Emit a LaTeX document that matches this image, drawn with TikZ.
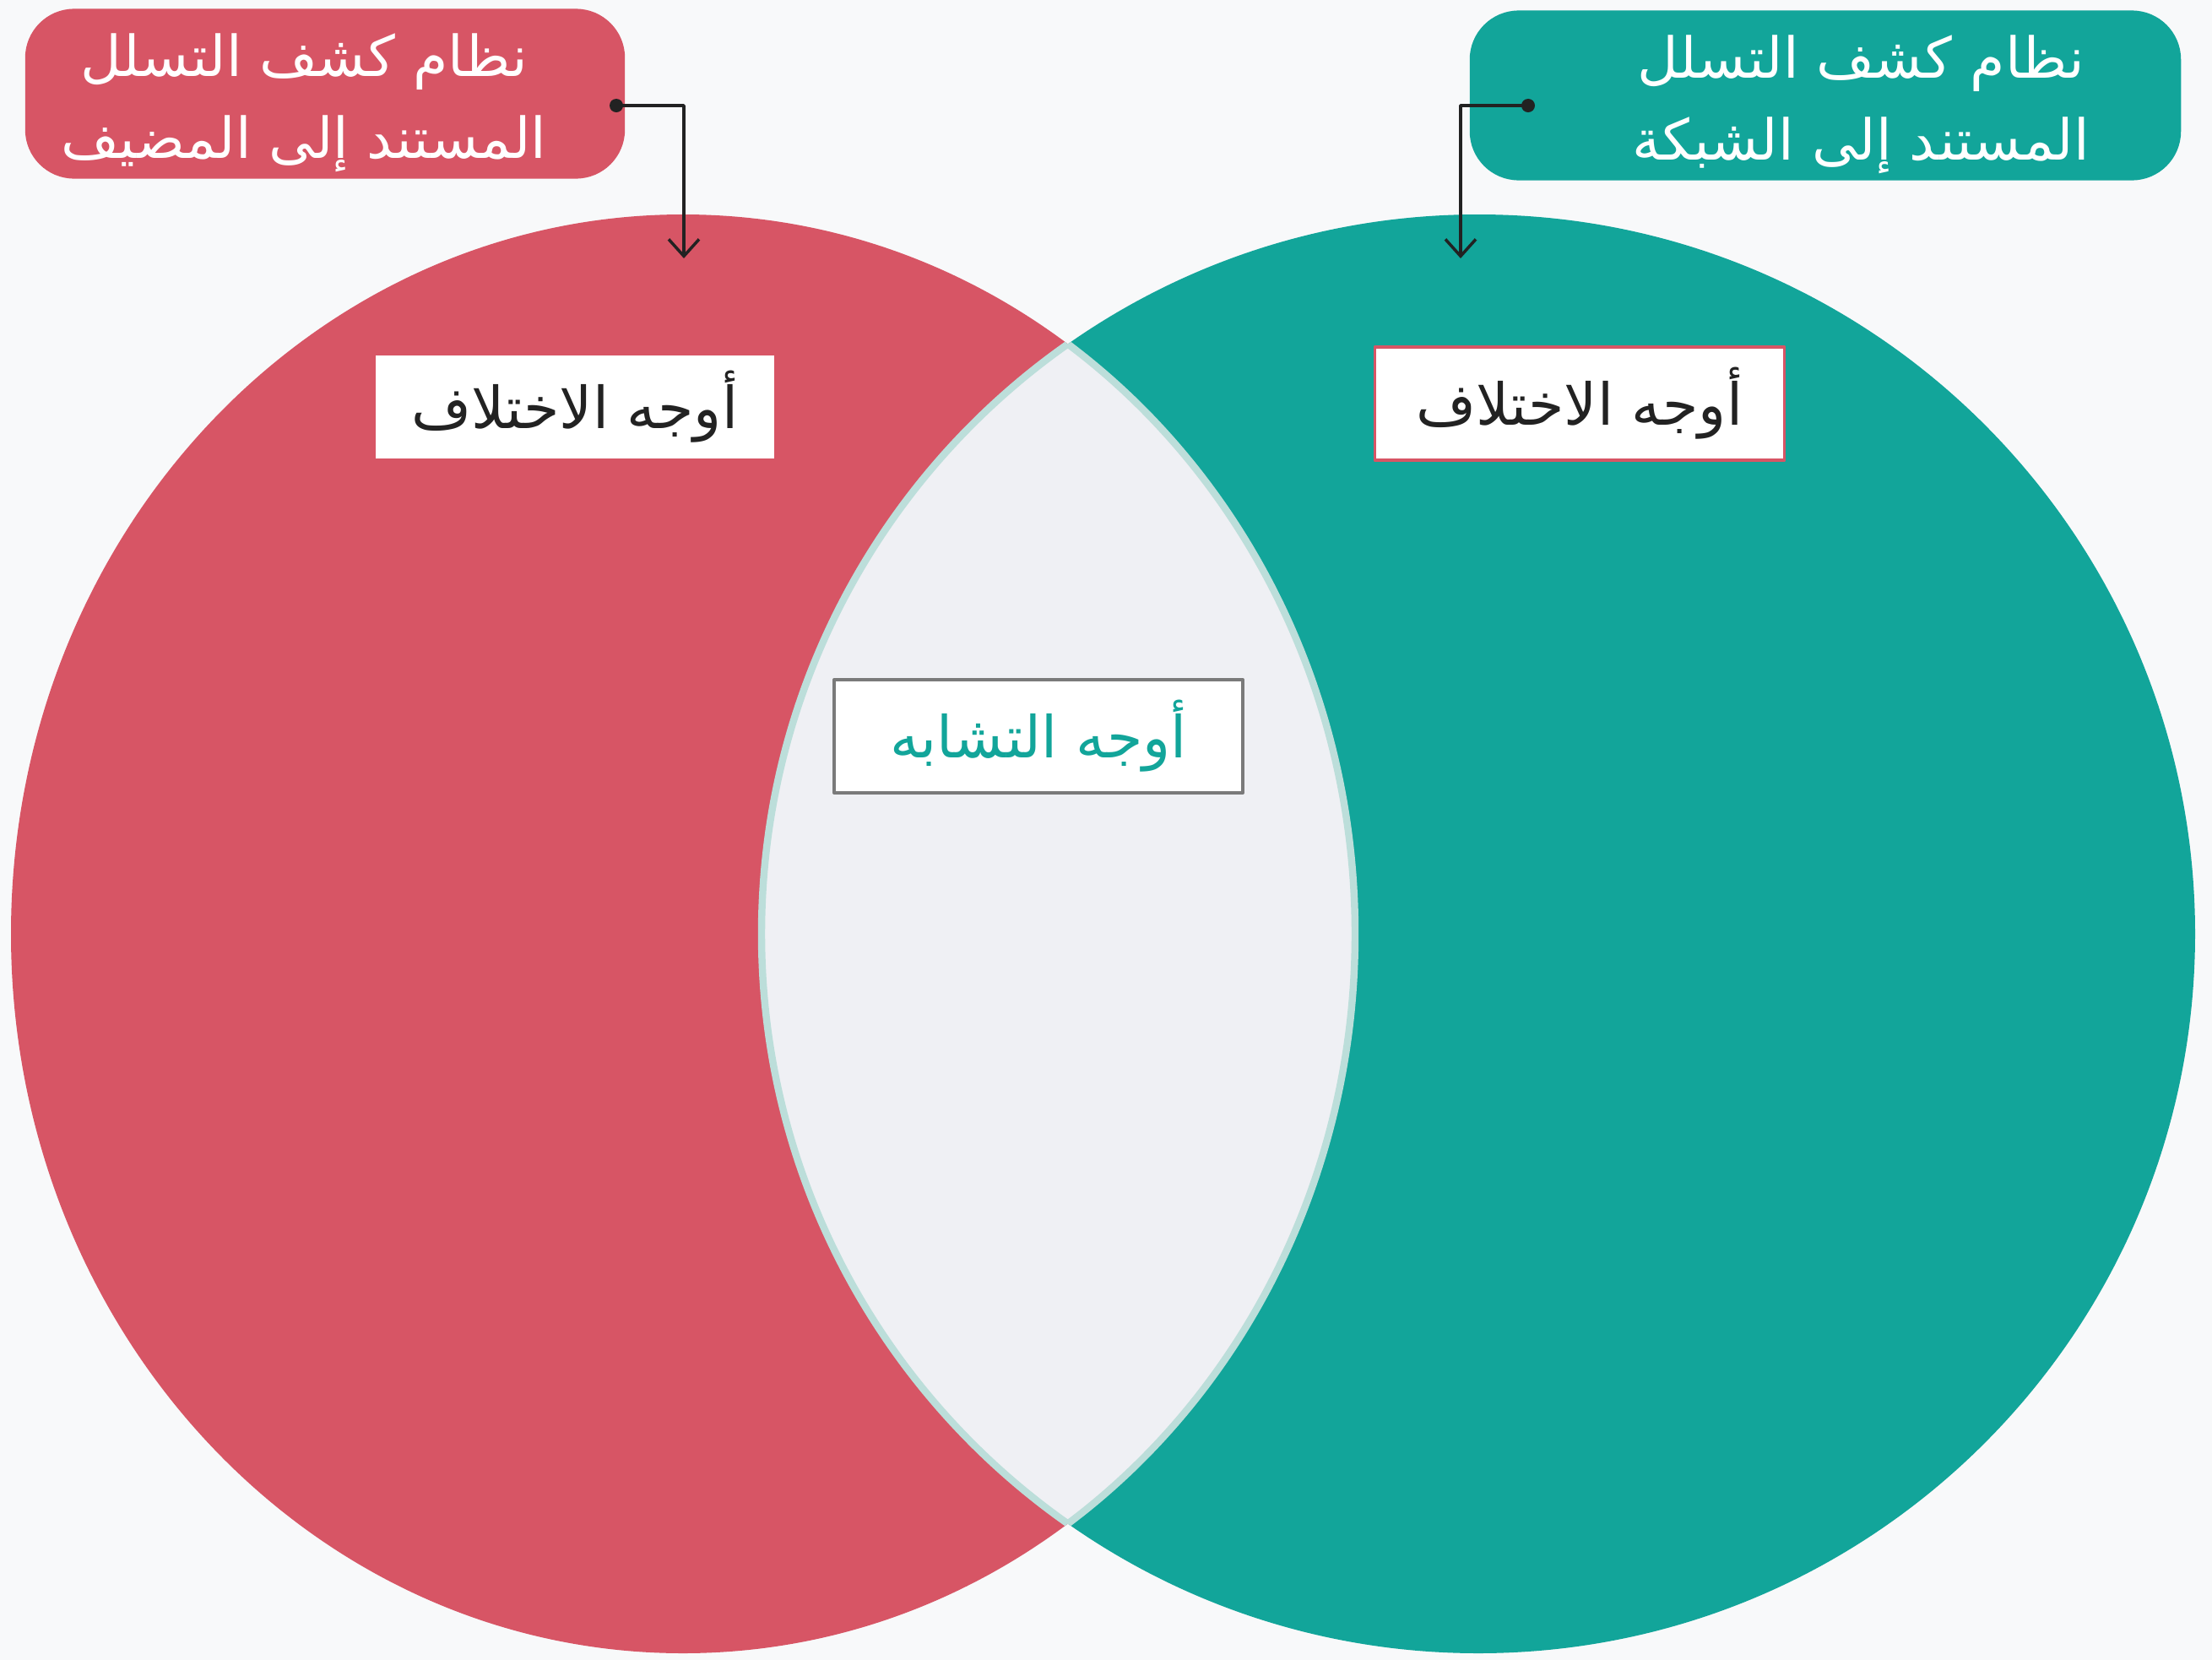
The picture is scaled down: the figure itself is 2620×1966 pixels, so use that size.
\documentclass[tikz,border=0pt]{standalone}
\usepackage{fontspec}
\usepackage{tikz}
\usetikzlibrary{arrows.meta}
\newfontfamily\arabicfont[Script=Arabic]{DejaVu Sans}
\TeXXeTstate=1

\definecolor{hostred}{HTML}{D75565}
\definecolor{netteal}{HTML}{12A59A}
\definecolor{lensgray}{HTML}{EFF0F4}
\definecolor{lensedge}{HTML}{BCDEDA}
\definecolor{pagegray}{HTML}{F8F9FA}
\definecolor{inkdark}{HTML}{222222}
\definecolor{boxgray}{HTML}{7A7A7A}

\begin{document}
\begin{tikzpicture}[line cap=round,line join=round,>={Straight Barb[length=0.2cm,width=0.36cm]},x=0.01cm,y=-0.01cm,
  titlebox/.style={rounded corners=0.58cm,minimum height=2.01cm,text=white,align=center,inner sep=0pt,font=\arabicfont\fontsize{19}{27.6}\selectfont},
  aspectbox/.style={fill=white,line width=1pt,inner sep=0pt,font=\arabicfont\fontsize{19.5}{22}\selectfont},
  pointer/.style={->,line width=1pt,color=inkdark}]
\fill[pagegray] (0,0) rectangle (2620,1966);
\useasboundingbox (0,0) rectangle (2620,1966);
%\draw[help lines] (0,0) grid[step=1cm] (2620,1966);
% the two sets
\fill[hostred] (809,1106) ellipse [x radius=796, y radius=852];
\fill[netteal] (1751,1106) ellipse [x radius=849, y radius=852];
% overlap
\begin{scope}
\clip (809,1106) ellipse [x radius=796, y radius=852];
\filldraw[fill=lensgray,draw=lensedge,line width=2.4pt] (1751,1106) ellipse [x radius=849, y radius=852];
\end{scope}
\begin{scope}
\clip (1751,1106) ellipse [x radius=849, y radius=852];
\draw[lensedge,line width=2.4pt] (809,1106) ellipse [x radius=796, y radius=852];
\end{scope}
% titles
\node[titlebox,fill=hostred,minimum width=7.1cm] (hostlabel) at (385,111) {\rule{0pt}{0.72cm}\beginR نظام كشف التسلل\endR\hspace*{0.5cm}\\\beginR المستند إلى المضيف\endR\hspace*{0.5cm}};
\node[titlebox,fill=netteal,minimum width=8.42cm] (netlabel) at (2162,113) {\rule{0pt}{0.72cm}\hspace*{0.84cm}\beginR نظام كشف التسلل\endR\\\hspace*{0.84cm}\beginR المستند إلى الشبكة\endR};
\coordinate (hostdot) at (730,125);
\coordinate (hosttip) at (810,306);
\coordinate (netdot) at (1810,125);
\coordinate (nettip) at (1730,306);
\fill[inkdark] (hostdot) circle (0.08cm);
\fill[inkdark] (netdot) circle (0.08cm);
\draw[pointer] (hostdot) -| (hosttip);
\draw[pointer] (netdot) -| (nettip);
% aspects
\node[aspectbox,draw=hostred,minimum width=4.76cm,minimum height=1.26cm,text=inkdark] (hostdiff) at (681,482) {\beginR أوجه الاختلاف\endR};
\node[aspectbox,draw=hostred,minimum width=4.85cm,minimum height=1.34cm,text=inkdark] (netdiff) at (1871,478) {\beginR أوجه الاختلاف\endR};
\node[aspectbox,draw=boxgray,minimum width=4.84cm,minimum height=1.34cm,text=netteal] (common) at (1230,872) {\beginR أوجه التشابه\endR};
\end{tikzpicture}
\end{document}
